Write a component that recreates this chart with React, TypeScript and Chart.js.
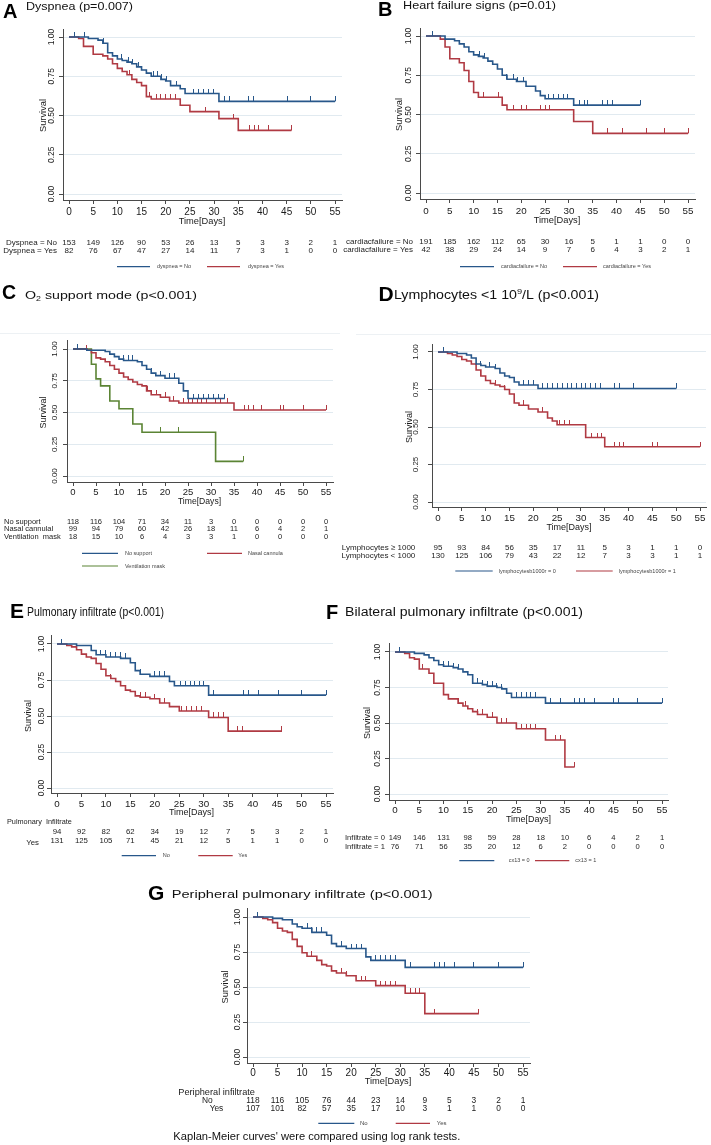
import React, { useEffect, useRef } from 'react';
import { Chart, registerables } from 'chart.js';

Chart.register(...registerables);

// ---------- shared axis values ----------
const xTickValues = [0, 5, 10, 15, 20, 25, 30, 35, 40, 45, 50, 55];
const yTickValues = [0, 0.25, 0.5, 0.75, 1];
const yTickLabels = ['0.00', '0.25', '0.50', '0.75', '1.00'];

// ---------- A: Dyspnea ----------
const aNoTimes = [0, 4, 6, 7, 8, 9, 10, 11, 12, 13, 14, 15, 16, 17, 19, 20, 21, 23, 24, 31, 55];
const aNoSurv = [1, 0.99, 0.98, 0.96, 0.9, 0.88, 0.86, 0.85, 0.84, 0.83, 0.81, 0.79, 0.77, 0.75, 0.73, 0.72, 0.69, 0.67, 0.64, 0.59, 0.59];
const aNoCensor = [1.2, 3.2, 7.1, 10.9, 12.3, 13.1, 14.3, 17.4, 18.2, 19.2, 20.1, 22.3, 25.7, 26.7, 27.8, 28.8, 29.8, 32.1, 33.1, 37.1, 38.2, 45.2, 50, 55];
const aYesTimes = [0, 2, 3, 5, 7, 8, 9, 10, 11, 12, 13, 14, 15, 16, 17, 23, 25, 31, 35, 46];
const aYesSurv = [1, 0.99, 0.94, 0.89, 0.88, 0.86, 0.83, 0.8, 0.78, 0.76, 0.73, 0.71, 0.69, 0.62, 0.605, 0.565, 0.525, 0.48, 0.405, 0.405];
const aYesCensor = [12.5, 16.7, 18, 19, 20, 21, 22, 28.2, 34, 37.3, 38.3, 39.1, 41.2, 46];
const aRiskNo = [153, 149, 126, 90, 53, 26, 13, 5, 3, 3, 2, 1];
const aRiskYes = [82, 76, 67, 47, 27, 14, 11, 7, 3, 1, 0, 0];

// ---------- B: Heart failure signs ----------
const bNoTimes = [0, 4, 6, 7, 8, 9, 10, 11, 12, 13, 14, 15, 16, 17, 19, 21, 23, 24, 25, 31, 45];
const bNoSurv = [1, 0.98, 0.97, 0.95, 0.93, 0.9, 0.88, 0.87, 0.86, 0.84, 0.82, 0.79, 0.75, 0.725, 0.71, 0.68, 0.65, 0.62, 0.6, 0.56, 0.56];
const bNoCensor = [1.3, 11.2, 12.2, 17, 18.3, 19.3, 20.4, 25.8, 26.8, 27.8, 28.8, 29.8, 32.2, 33.2, 34, 37.1, 38.1, 39.1, 45];
const bYesTimes = [0, 3, 4, 5, 7, 8, 9, 10, 11, 16, 17, 31, 35, 55];
const bYesSurv = [1, 0.98, 0.93, 0.855, 0.83, 0.78, 0.71, 0.64, 0.61, 0.56, 0.53, 0.455, 0.38, 0.38];
const bYesCensor = [12, 15.2, 18.4, 20, 21, 24.1, 25, 26, 38.1, 41.2, 46.3, 50, 55];
const bRiskNo = [191, 185, 162, 112, 65, 30, 16, 5, 1, 1, 0, 0];
const bRiskYes = [42, 38, 29, 24, 14, 9, 7, 6, 4, 3, 2, 1];

// ---------- C: O2 support mode ----------
const cNoTimes = [0, 3, 7, 8, 9, 10, 11, 14, 15, 16, 17, 18, 20, 23, 24, 25, 33];
const cNoSurv = [1, 0.99, 0.98, 0.96, 0.94, 0.92, 0.91, 0.9, 0.87, 0.84, 0.81, 0.79, 0.77, 0.73, 0.67, 0.61, 0.61];
const cNoCensor = [1, 11, 12.1, 13, 17.1, 19, 21, 22, 23, 26.2, 27.3, 28.4, 29.5, 30.5, 31.6, 33];
const cNasalTimes = [0, 3, 4, 5, 6, 7, 8, 9, 10, 11, 12, 13, 14, 15, 16, 17, 19, 21, 23, 35, 55];
const cNasalSurv = [1, 0.99, 0.97, 0.93, 0.92, 0.9, 0.87, 0.84, 0.81, 0.78, 0.76, 0.74, 0.72, 0.71, 0.67, 0.64, 0.62, 0.59, 0.575, 0.52, 0.52];
const cNasalCensor = [3, 16.3, 18.2, 20, 21.8, 24, 25, 26, 27, 28, 29, 31, 32, 33.5, 37.2, 38.2, 39.3, 41, 45, 45.8, 50, 55];
const cMaskTimes = [0, 4, 5, 6, 8, 10, 13, 15, 31, 37];
const cMaskSurv = [1, 0.88, 0.765, 0.71, 0.59, 0.53, 0.41, 0.345, 0.115, 0.115];
const cMaskCensor = [19, 23, 37];
const cRiskNo = [118, 116, 104, 71, 34, 11, 3, 0, 0, 0, 0, 0];
const cRiskNasal = [99, 94, 79, 60, 42, 26, 18, 11, 6, 4, 2, 1];
const cRiskMask = [18, 15, 10, 6, 4, 3, 3, 1, 0, 0, 0, 0];

// ---------- D: Lymphocytes ----------
const dHighTimes = [0, 4, 6, 7, 8, 9, 10, 12, 13, 14, 15, 16, 17, 21, 50];
const dHighSurv = [1, 0.99, 0.98, 0.96, 0.92, 0.91, 0.9, 0.89, 0.86, 0.84, 0.83, 0.8, 0.78, 0.757, 0.757];
const dHighCensor = [1.2, 9, 10.8, 12, 18, 19, 20, 22, 23, 24.1, 25.1, 26.2, 27.2, 28.1, 29.1, 30.1, 31, 32.1, 33.1, 34.1, 37, 38, 41, 50];
const dLowTimes = [0, 2, 3, 4, 5, 6, 7, 8, 9, 10, 11, 12, 13, 14, 15, 16, 17, 19, 21, 23, 24, 25, 31, 35, 55];
const dLowSurv = [1, 0.99, 0.98, 0.97, 0.95, 0.94, 0.92, 0.88, 0.84, 0.81, 0.79, 0.78, 0.77, 0.75, 0.72, 0.66, 0.645, 0.62, 0.6, 0.56, 0.54, 0.515, 0.43, 0.368, 0.368];
const dLowCensor = [9, 12, 14, 18, 22, 25.5, 26.5, 27.5, 32.2, 33.4, 34.4, 37, 38, 39, 45, 46, 55];
const dRiskHigh = [95, 93, 84, 56, 35, 17, 11, 5, 3, 1, 1, 0];
const dRiskLow = [130, 125, 106, 79, 43, 22, 12, 7, 3, 3, 1, 1];

// ---------- E: Pulmonary infiltrate ----------
const eNoTimes = [0, 4, 7, 8, 10, 13, 15, 16, 17, 19, 23, 24, 31, 55];
const eNoSurv = [1, 0.99, 0.955, 0.925, 0.91, 0.9, 0.87, 0.815, 0.79, 0.775, 0.74, 0.71, 0.645, 0.645];
const eNoCensor = [1, 8.9, 9.9, 10.9, 11.9, 12.9, 14, 17, 20, 21, 22, 25.2, 26.2, 27.2, 28.1, 29.1, 30, 32, 38.1, 39.1, 41.2, 45.3, 50, 55];
const eYesTimes = [0, 2, 3, 4, 5, 6, 7, 8, 9, 10, 11, 12, 13, 14, 15, 16, 17, 19, 21, 23, 25, 31, 35, 46];
const eYesSurv = [1, 0.99, 0.98, 0.96, 0.93, 0.91, 0.9, 0.865, 0.825, 0.78, 0.76, 0.74, 0.71, 0.68, 0.67, 0.64, 0.63, 0.62, 0.59, 0.565, 0.535, 0.49, 0.395, 0.395];
const eYesCensor = [11, 17, 18, 20, 21, 22, 25.5, 26.5, 27.5, 28.5, 29.5, 32, 33, 34, 37, 38, 46];
const eRiskNo = [94, 92, 82, 62, 34, 19, 12, 7, 5, 3, 2, 1];
const eRiskYes = [131, 125, 105, 71, 45, 21, 12, 5, 1, 1, 0, 0];

// ---------- F: Bilateral pulmonary infiltrate ----------
const fNoTimes = [0, 4, 6, 7, 8, 9, 10, 12, 13, 14, 15, 16, 18, 19, 21, 22, 23, 24, 31, 55];
const fNoSurv = [1, 0.99, 0.98, 0.96, 0.94, 0.91, 0.9, 0.89, 0.88, 0.86, 0.84, 0.78, 0.77, 0.76, 0.75, 0.74, 0.71, 0.68, 0.64, 0.64];
const fNoCensor = [1, 9, 10, 11, 12, 13, 17, 18, 19, 20, 21, 22, 25, 26, 27, 28, 29, 32, 34, 37, 38, 39, 41, 45, 46, 50, 55];
const fYesTimes = [0, 2, 3, 4, 5, 7, 8, 10, 11, 13, 14, 15, 16, 17, 19, 21, 25, 31, 35, 37];
const fYesSurv = [1, 0.99, 0.96, 0.95, 0.88, 0.85, 0.78, 0.7, 0.67, 0.64, 0.62, 0.6, 0.58, 0.56, 0.54, 0.5, 0.46, 0.38, 0.19, 0.19];
const fYesCensor = [5.7, 11, 13, 14.5, 17, 18, 20, 22, 23, 26, 27, 28, 29, 33, 34, 37];
const fRisk0 = [149, 146, 131, 98, 59, 28, 18, 10, 6, 4, 2, 1];
const fRisk1 = [76, 71, 56, 35, 20, 12, 6, 2, 0, 0, 0, 0];

// ---------- G: Peripheral pulmonary infiltrate ----------
const gNoTimes = [0, 4, 6, 8, 9, 10, 12, 15, 16, 17, 19, 23, 24, 31, 55];
const gNoSurv = [1, 0.99, 0.98, 0.95, 0.93, 0.92, 0.89, 0.87, 0.81, 0.79, 0.775, 0.715, 0.69, 0.64, 0.64];
const gNoCensor = [1, 11, 12, 13, 14, 18, 20, 21, 22, 25, 26, 27, 28, 29, 32, 37, 38, 39, 41, 45, 50, 55];
const gYesTimes = [0, 2, 3, 4, 5, 6, 7, 8, 9, 10, 11, 13, 14, 15, 16, 17, 19, 21, 25, 31, 35, 46];
const gYesSurv = [1, 0.99, 0.98, 0.96, 0.92, 0.9, 0.89, 0.84, 0.79, 0.745, 0.72, 0.69, 0.66, 0.65, 0.615, 0.6, 0.58, 0.545, 0.51, 0.455, 0.31, 0.31];
const gYesCensor = [12, 18, 19, 22, 23, 26, 27, 28, 29, 32, 33, 34, 37, 46];
const gRiskNo = [118, 116, 105, 76, 44, 23, 14, 9, 5, 3, 2, 1];
const gRiskYes = [107, 101, 82, 57, 35, 17, 10, 3, 1, 1, 0, 0];

// ---------- styles ----------
const BLUE = '#28578a';
const RED = '#b03a43';
const GREEN = '#5b8434';
const AXIS = '#4a4a4a';
const GRID = '#e1eaf0';
const RULE = '#edf1f4';
const FONT = '"Liberation Sans", Arial, Helvetica, sans-serif';
const SW = 10;
const SH = 10;

type Curve = { times: number[]; surv: number[]; censor: number[]; color: string };
type Seg = { t: string; k?: number; dy?: number };
type RiskRow = { label: string; lx: number; align: CanvasTextAlign; y: number; ly?: number; values: number[] };
type LegendItem = { x1: number; x2: number; tx: number; y: number; color: string; text: string };
type Spec = {
  key: string;
  box: { left: number; top: number; w: number; h: number };
  area: { l: number; r: number; t: number; b: number };
  x0: number; x55: number; y1: number; y0: number;
  yLabelX: number; yFont: number;
  survX: number; survFont: number;
  xLabelY: number; xFont: number;
  timeY: number; timeFont: number;
  letter: { t: string; x: number; y: number; size: number };
  title: { segs: Seg[]; x: number; y: number; size: number; width: number };
  curves: Curve[];
  riskFont: number;
  risk: RiskRow[];
  header?: { t: string; x: number; y: number; size: number };
  legendFont: number;
  legend: LegendItem[];
  rule?: { x1: number; x2: number; y: number };
  footer?: { t: string; x: number; y: number; size: number; width: number };
};

const font = (size: number, bold = false) => `${bold ? 'bold ' : ''}${size}px ${FONT}`;

function txt(
  ctx: CanvasRenderingContext2D, s: string, x: number, y: number, size: number,
  o: { align?: CanvasTextAlign; rot?: number; color?: string; bold?: boolean } = {}
) {
  ctx.save();
  ctx.font = font(size, o.bold);
  ctx.fillStyle = o.color || '#1a1a1a';
  ctx.textBaseline = 'middle';
  ctx.textAlign = o.align || 'left';
  ctx.translate(x, y);
  if (o.rot) ctx.rotate(o.rot);
  ctx.fillText(s, 0, 0);
  ctx.restore();
}

function rich(ctx: CanvasRenderingContext2D, segs: Seg[], x: number, y: number, size: number, width: number, color = '#111') {
  ctx.save();
  let total = 0;
  const widths = segs.map((s) => {
    ctx.font = font(size * (s.k || 1));
    const w = ctx.measureText(s.t).width;
    total += w;
    return w;
  });
  const sx = width ? width / total : 1;
  ctx.translate(x, y);
  ctx.scale(sx, 1);
  ctx.fillStyle = color;
  ctx.textBaseline = 'middle';
  ctx.textAlign = 'left';
  let cx = 0;
  segs.forEach((s, i) => {
    ctx.font = font(size * (s.k || 1));
    ctx.fillText(s.t, cx, s.dy || 0);
    cx += widths[i];
  });
  ctx.restore();
}

const tickCache: Record<string, HTMLCanvasElement> = {};
function censorMark(color: string) {
  if (!tickCache[color]) {
    const c = document.createElement('canvas');
    c.width = 1;
    c.height = 10;
    const g = c.getContext('2d')!;
    g.fillStyle = color;
    g.fillRect(0, 0, 1, 5);
    tickCache[color] = c;
  }
  return tickCache[color];
}

function survAt(c: Curve, t: number) {
  let v = c.surv[0];
  for (let i = 0; i < c.times.length; i++) if (c.times[i] <= t) v = c.surv[i];
  return v;
}

function makePlugin(p: Spec) {
  return {
    id: 'km' + p.key,
    beforeDraw(chart: any) {
      if (!p.rule) return;
      const ctx: CanvasRenderingContext2D = chart.ctx;
      ctx.save();
      ctx.strokeStyle = RULE;
      ctx.lineWidth = 1;
      ctx.beginPath();
      ctx.moveTo(p.rule.x1 - p.box.left, p.rule.y - p.box.top + 0.5);
      ctx.lineTo(p.rule.x2 - p.box.left, p.rule.y - p.box.top + 0.5);
      ctx.stroke();
      ctx.restore();
    },
    afterDraw(chart: any) {
      const ctx: CanvasRenderingContext2D = chart.ctx;
      const ox = p.box.left;
      const oy = p.box.top;
      const xs = chart.scales.x;
      const ys = chart.scales.y;
      yTickValues.forEach((v, i) =>
        txt(ctx, yTickLabels[i], p.yLabelX - ox, ys.getPixelForValue(v), p.yFont, { align: 'center', rot: -Math.PI / 2 })
      );
      txt(ctx, 'Survival', p.survX - ox, ys.getPixelForValue(0.5), p.survFont, { align: 'center', rot: -Math.PI / 2 });
      xTickValues.forEach((v) => txt(ctx, String(v), xs.getPixelForValue(v), p.xLabelY - oy, p.xFont, { align: 'center' }));
      txt(ctx, 'Time[Days]', xs.getPixelForValue(27.5), p.timeY - oy, p.timeFont, { align: 'center' });
      txt(ctx, p.letter.t, p.letter.x - ox, p.letter.y - oy, p.letter.size, { bold: true, color: '#000' });
      rich(ctx, p.title.segs, p.title.x - ox, p.title.y - oy, p.title.size, p.title.width);
      if (p.header) txt(ctx, p.header.t, p.header.x - ox, p.header.y - oy, p.header.size, { color: '#222' });
      p.risk.forEach((r) => {
        if (r.label) txt(ctx, r.label, r.lx - ox, (r.ly ?? r.y) - oy, p.riskFont, { align: r.align, color: '#222' });
        r.values.forEach((v, i) =>
          txt(ctx, String(v), xs.getPixelForValue(xTickValues[i]), r.y - oy, p.riskFont, { align: 'center', color: '#222' })
        );
      });
      p.legend.forEach((it) => {
        ctx.save();
        ctx.strokeStyle = it.color;
        ctx.lineWidth = 1.2;
        ctx.beginPath();
        ctx.moveTo(it.x1 - ox, it.y - oy);
        ctx.lineTo(it.x2 - ox, it.y - oy);
        ctx.stroke();
        ctx.restore();
        txt(ctx, it.text, it.tx - ox, it.y - oy, p.legendFont, { color: '#444' });
      });
      if (p.footer) rich(ctx, [{ t: p.footer.t }], p.footer.x - ox, p.footer.y - oy, p.footer.size, p.footer.width, '#111');
    },
  };
}

function buildConfig(p: Spec): any {
  const L = p.area.l - p.box.left;
  const R = p.area.r - p.box.left;
  const T = p.area.t - p.box.top;
  const B = p.area.b - p.box.top;
  const k = (p.x55 - p.x0) / 55;
  const xmin = -(p.x0 - p.area.l) / k;
  const xmax = 55 + (p.area.r - p.x55) / k;
  const ky = p.y0 - p.y1;
  const ymin = -(p.area.b - p.y0) / ky;
  const ymax = 1 + (p.y1 - p.area.t) / ky;
  const datasets: any[] = [];
  p.curves.forEach((c) => {
    datasets.push({
      data: c.times.map((t, i) => ({ x: t, y: c.surv[i] })),
      borderColor: c.color,
      borderWidth: 1.6,
      stepped: true,
      pointRadius: 0,
      fill: false,
      tension: 0,
    });
    datasets.push({
      data: c.censor.map((t) => ({ x: t, y: survAt(c, t) })),
      showLine: false,
      pointStyle: censorMark(c.color),
      pointRadius: 3,
      pointHoverRadius: 3,
      borderColor: c.color,
      backgroundColor: c.color,
    });
  });
  return {
    type: 'line',
    data: { datasets },
    options: {
      animation: false,
      responsive: false,
      maintainAspectRatio: false,
      events: [],
      layout: { padding: { left: L - SW, right: p.box.w - R, top: T, bottom: p.box.h - B - SH } },
      plugins: { legend: { display: false }, title: { display: false }, tooltip: { enabled: false } },
      scales: {
        x: {
          type: 'linear',
          min: xmin,
          max: xmax,
          afterBuildTicks: (s: any) => { s.ticks = xTickValues.map((v) => ({ value: v })); },
          afterFit: (s: any) => { s.height = SH; },
          ticks: { display: false },
          grid: { display: true, drawOnChartArea: false, drawTicks: true, tickLength: 4, tickColor: AXIS, tickWidth: 1 },
          border: { display: true, color: AXIS, width: 1 },
        },
        y: {
          type: 'linear',
          min: ymin,
          max: ymax,
          afterBuildTicks: (s: any) => { s.ticks = yTickValues.map((v) => ({ value: v })); },
          afterFit: (s: any) => { s.width = SW; },
          ticks: { display: false },
          grid: { display: true, drawOnChartArea: true, color: GRID, lineWidth: 1, drawTicks: true, tickLength: 4, tickColor: AXIS, tickWidth: 1 },
          border: { display: true, color: AXIS, width: 1 },
        },
      },
    },
    plugins: [makePlugin(p)],
  };
}

const specs: Spec[] = [
  {
    key: 'A',
    box: { left: 0, top: 0, w: 356, h: 282 },
    area: { l: 63, r: 342, t: 29, b: 200 },
    x0: 69, x55: 335, y1: 37, y0: 194,
    yLabelX: 52, yFont: 8.5, survX: 43, survFont: 9.3,
    xLabelY: 212, xFont: 10, timeY: 221.5, timeFont: 9.3,
    letter: { t: 'A', x: 3, y: 12, size: 20 },
    title: { segs: [{ t: 'Dyspnea (p=0.007)' }], x: 26, y: 7, size: 11.6, width: 107 },
    curves: [
      { times: aNoTimes, surv: aNoSurv, censor: aNoCensor, color: BLUE },
      { times: aYesTimes, surv: aYesSurv, censor: aYesCensor, color: RED },
    ],
    riskFont: 8,
    risk: [
      { label: 'Dyspnea = No', lx: 57, align: 'right', y: 242.7, values: aRiskNo },
      { label: 'Dyspnea = Yes', lx: 57, align: 'right', y: 251, values: aRiskYes },
    ],
    legendFont: 5.5,
    legend: [
      { x1: 117, x2: 150, tx: 157, y: 266.7, color: BLUE, text: 'dyspnea = No' },
      { x1: 207, x2: 240, tx: 248, y: 266.7, color: RED, text: 'dyspnea = Yes' },
    ],
  },
  {
    key: 'B',
    box: { left: 336, top: 0, w: 375, h: 282 },
    area: { l: 420, r: 695, t: 28, b: 199 },
    x0: 426, x55: 688, y1: 36, y0: 193,
    yLabelX: 409, yFont: 8.5, survX: 399.5, survFont: 9.3,
    xLabelY: 211, xFont: 9.8, timeY: 220.5, timeFont: 9.3,
    letter: { t: 'B', x: 378, y: 10.3, size: 20 },
    title: { segs: [{ t: 'Heart failure signs (p=0.01)' }], x: 403, y: 5.8, size: 11.6, width: 153 },
    curves: [
      { times: bNoTimes, surv: bNoSurv, censor: bNoCensor, color: BLUE },
      { times: bYesTimes, surv: bYesSurv, censor: bYesCensor, color: RED },
    ],
    riskFont: 8,
    risk: [
      { label: 'cardiacfailure = No', lx: 413, align: 'right', y: 241.5, values: bRiskNo },
      { label: 'cardiacfailure = Yes', lx: 413, align: 'right', y: 250, values: bRiskYes },
    ],
    legendFont: 5.5,
    legend: [
      { x1: 460, x2: 494, tx: 501, y: 266.7, color: BLUE, text: 'cardiacfailure = No' },
      { x1: 563, x2: 597, tx: 603, y: 266.7, color: RED, text: 'cardiacfailure = Yes' },
    ],
  },
  {
    key: 'C',
    box: { left: 0, top: 282, w: 356, h: 310 },
    area: { l: 67, r: 333, t: 340, b: 482 },
    x0: 73, x55: 326, y1: 349, y0: 476,
    yLabelX: 55, yFont: 8, survX: 44, survFont: 9,
    xLabelY: 492.5, xFont: 9.5, timeY: 501.5, timeFont: 8.6,
    letter: { t: 'C', x: 2, y: 294, size: 19.5 },
    title: {
      segs: [{ t: 'O' }, { t: '2', k: 0.62, dy: 3 }, { t: ' support mode (p<0.001)' }],
      x: 25, y: 296, size: 11.6, width: 172,
    },
    curves: [
      { times: cNoTimes, surv: cNoSurv, censor: cNoCensor, color: BLUE },
      { times: cNasalTimes, surv: cNasalSurv, censor: cNasalCensor, color: RED },
      { times: cMaskTimes, surv: cMaskSurv, censor: cMaskCensor, color: GREEN },
    ],
    riskFont: 7.5,
    risk: [
      { label: 'No support', lx: 4, align: 'left', y: 521.7, values: cRiskNo },
      { label: 'Nasal cannulal', lx: 4, align: 'left', y: 529.3, values: cRiskNasal },
      { label: 'Ventilation  mask', lx: 4, align: 'left', y: 537.3, values: cRiskMask },
    ],
    legendFont: 5.5,
    legend: [
      { x1: 82, x2: 118, tx: 125, y: 553.3, color: BLUE, text: 'No support' },
      { x1: 207, x2: 242, tx: 248, y: 553.3, color: RED, text: 'Nasal cannula' },
      { x1: 82, x2: 118, tx: 125, y: 566, color: GREEN, text: 'Ventilation mask' },
    ],
    rule: { x1: 0, x2: 340, y: 333 },
  },
  {
    key: 'D',
    box: { left: 326, top: 282, w: 385, h: 310 },
    area: { l: 432, r: 706, t: 344, b: 507 },
    x0: 438, x55: 700, y1: 352, y0: 502,
    yLabelX: 416, yFont: 8, survX: 409.5, survFont: 9,
    xLabelY: 518.5, xFont: 9.8, timeY: 527.5, timeFont: 9,
    letter: { t: 'D', x: 378.5, y: 295, size: 21 },
    title: {
      segs: [{ t: 'Lymphocytes <1 10' }, { t: '9', k: 0.65, dy: -4 }, { t: '/L (p<0.001)' }],
      x: 394, y: 295.3, size: 12.5, width: 205,
    },
    curves: [
      { times: dHighTimes, surv: dHighSurv, censor: dHighCensor, color: BLUE },
      { times: dLowTimes, surv: dLowSurv, censor: dLowCensor, color: RED },
    ],
    riskFont: 8,
    risk: [
      { label: 'Lymphocytes \u2265 1000', lx: 415.3, align: 'right', y: 547.7, values: dRiskHigh },
      { label: 'Lymphocytes < 1000', lx: 415.3, align: 'right', y: 556, values: dRiskLow },
    ],
    legendFont: 5.5,
    legend: [
      { x1: 455.3, x2: 492.7, tx: 498.7, y: 571, color: BLUE, text: 'lymphocytesb1000r = 0' },
      { x1: 576, x2: 612.7, tx: 618.7, y: 571, color: RED, text: 'lymphocytesb1000r = 1' },
    ],
    rule: { x1: 356, x2: 711, y: 334 },
  },
  {
    key: 'E',
    box: { left: 0, top: 595, w: 340, h: 275 },
    area: { l: 51, r: 333, t: 635, b: 793 },
    x0: 57, x55: 326, y1: 644, y0: 788,
    yLabelX: 41.7, yFont: 8.5, survX: 28.3, survFont: 9,
    xLabelY: 804.3, xFont: 9.8, timeY: 813, timeFont: 9,
    letter: { t: 'E', x: 10, y: 612.5, size: 21 },
    title: { segs: [{ t: 'Pulmonary infiltrate (p<0.001)' }], x: 27, y: 612.7, size: 12, width: 137 },
    curves: [
      { times: eNoTimes, surv: eNoSurv, censor: eNoCensor, color: BLUE },
      { times: eYesTimes, surv: eYesSurv, censor: eYesCensor, color: RED },
    ],
    header: { t: 'Pulmonary  Infiltrate', x: 7, y: 821.7, size: 7.3 },
    riskFont: 7.8,
    risk: [
      { label: '', lx: 39, align: 'right', y: 832.3, values: eRiskNo },
      { label: 'Yes', lx: 39, align: 'right', y: 840.7, ly: 842.7, values: eRiskYes },
    ],
    legendFont: 5.5,
    legend: [
      { x1: 121.7, x2: 156, tx: 162.7, y: 855.7, color: BLUE, text: 'No' },
      { x1: 198.3, x2: 232.7, tx: 238.3, y: 855.7, color: RED, text: 'Yes' },
    ],
  },
  {
    key: 'F',
    box: { left: 320, top: 595, w: 391, h: 275 },
    area: { l: 389, r: 668, t: 643, b: 800 },
    x0: 395, x55: 662, y1: 652, y0: 794,
    yLabelX: 377.5, yFont: 8.5, survX: 367.5, survFont: 9,
    xLabelY: 810.5, xFont: 9.8, timeY: 819.3, timeFont: 9,
    letter: { t: 'F', x: 326, y: 613, size: 20 },
    title: { segs: [{ t: 'Bilateral pulmonary infiltrate (p<0.001)' }], x: 345, y: 612.5, size: 12, width: 238 },
    curves: [
      { times: fNoTimes, surv: fNoSurv, censor: fNoCensor, color: BLUE },
      { times: fYesTimes, surv: fYesSurv, censor: fYesCensor, color: RED },
    ],
    riskFont: 7.6,
    risk: [
      { label: 'Infiltrate = 0', lx: 345, align: 'left', y: 838.3, values: fRisk0 },
      { label: 'Infiltrate = 1', lx: 345, align: 'left', y: 846.7, values: fRisk1 },
    ],
    legendFont: 5.5,
    legend: [
      { x1: 459.3, x2: 494.3, tx: 508.7, y: 860.7, color: BLUE, text: 'cx13 = 0' },
      { x1: 535, x2: 569.3, tx: 575.3, y: 860.7, color: RED, text: 'cx13 = 1' },
    ],
  },
  {
    key: 'G',
    box: { left: 140, top: 878, w: 420, h: 267 },
    area: { l: 247, r: 530, t: 908, b: 1063 },
    x0: 253, x55: 523, y1: 917, y0: 1057,
    yLabelX: 237.8, yFont: 8.5, survX: 225, survFont: 9.3,
    xLabelY: 1073.3, xFont: 10, timeY: 1081.7, timeFont: 9.3,
    letter: { t: 'G', x: 148, y: 894.5, size: 21 },
    title: { segs: [{ t: 'Peripheral pulmonary infiltrate (p<0.001)' }], x: 171.7, y: 895, size: 11.6, width: 261 },
    curves: [
      { times: gNoTimes, surv: gNoSurv, censor: gNoCensor, color: BLUE },
      { times: gYesTimes, surv: gYesSurv, censor: gYesCensor, color: RED },
    ],
    header: { t: 'Peripheral infiltrate', x: 178.3, y: 1092.3, size: 9.2 },
    riskFont: 8.4,
    risk: [
      { label: 'No', lx: 212.7, align: 'right', y: 1100.7, values: gRiskNo },
      { label: 'Yes', lx: 223.3, align: 'right', y: 1109, values: gRiskYes },
    ],
    legendFont: 6,
    legend: [
      { x1: 318.3, x2: 354.3, tx: 360, y: 1123.3, color: BLUE, text: 'No' },
      { x1: 395.7, x2: 430, tx: 436.7, y: 1123.3, color: RED, text: 'Yes' },
    ],
    footer: { t: "Kaplan-Meier curves' were compared using log rank tests.", x: 173.3, y: 1136.7, size: 11, width: 287 },
  },
];

function Panel({ spec }: { spec: Spec }) {
  const ref = useRef<HTMLCanvasElement>(null);
  useEffect(() => {
    if (!ref.current) return;
    const chart = new Chart(ref.current, buildConfig(spec));
    return () => chart.destroy();
  }, [spec]);
  return (
    <canvas
      ref={ref}
      width={spec.box.w}
      height={spec.box.h}
      style={{ position: 'absolute', left: spec.box.left, top: spec.box.top, width: spec.box.w, height: spec.box.h }}
    />
  );
}

export default function App() {
  return (
    <div style={{ position: 'absolute', left: 0, top: 0, width: 711, height: 1145, background: '#fff', overflow: 'hidden' }}>
      {specs.map((s) => (
        <Panel key={s.key} spec={s} />
      ))}
    </div>
  );
}
